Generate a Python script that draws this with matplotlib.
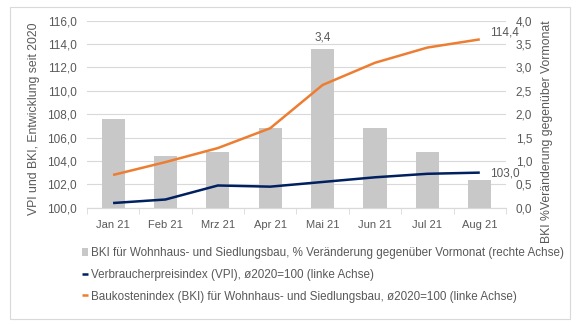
import matplotlib.pyplot as plt
from matplotlib.patches import Rectangle

months = ['Jan 21', 'Feb 21', 'Mrz 21', 'Apr 21', 'Mai 21', 'Jun 21', 'Jul 21', 'Aug 21']
bki_change = [1.9, 1.1, 1.2, 1.7, 3.4, 1.7, 1.2, 0.6]
vpi = [100.4, 100.7, 101.9, 101.8, 102.2, 102.6, 102.9, 103.0]
bki = [102.8, 103.9, 105.1, 106.8, 110.5, 112.4, 113.7, 114.4]

left_ticks = [100 + 2 * i for i in range(9)]
right_ticks = [0.5 * i for i in range(9)]

grey_text = '#595959'
plt.rcParams['font.family'] = ['Liberation Sans', 'DejaVu Sans']


def de(v):
    return f'{v:.1f}'.replace('.', ',')


fig = plt.figure(figsize=(5.87, 3.23), dpi=100)
ax = fig.add_axes([0.148, 0.357, 0.714, 0.579])
ax2 = ax.twinx()

x = list(range(len(months)))

# bars on the right scale, drawn underneath the index lines
ax2.bar(x, bki_change, width=0.44, color='#C8C8C8', zorder=2,
        label='BKI für Wohnhaus- und Siedlungsbau, % Veränderung gegenüber Vormonat (rechte Achse)')
ax2.set_ylim(0, 4)
ax2.set_yticks(right_ticks)
ax2.set_yticklabels([de(t) for t in right_ticks])
ax2.grid(axis='y', color='#D9D9D9', linewidth=0.8, zorder=0)
ax2.set_axisbelow(True)
ax2.text(4, bki_change[4] + 0.12, de(bki_change[4]),
         ha='center', va='bottom', color=grey_text, fontsize=8.5)

l1, = ax.plot(x, vpi, color='#002060', linewidth=1.8, solid_capstyle='butt',
              label='Verbraucherpreisindex (VPI), ø2020=100 (linke Achse)')
l2, = ax.plot(x, bki, color='#ED7D31', linewidth=1.8, solid_capstyle='butt',
              label='Baukostenindex (BKI) für Wohnhaus- und Siedlungsbau, ø2020=100 (linke Achse)')
ax.set_ylim(100, 116)
ax.set_yticks(left_ticks)
ax.set_yticklabels([de(t) for t in left_ticks])
ax.set_xlim(-0.5, len(months) - 0.5)
ax.set_xticks(x)
ax.set_xticklabels(months)
ax.set_xticks([i - 0.5 for i in range(len(months) + 1)], minor=True)
ax.tick_params(axis='x', which='major', length=0, pad=9)
ax.tick_params(axis='x', which='minor', length=4, color='#D9D9D9')
ax.set_zorder(ax2.get_zorder() + 1)
ax.patch.set_visible(False)

ax.text(7.2, bki[-1] + 0.6, de(bki[-1]),
        ha='left', va='center', color=grey_text, fontsize=8.5)
ax.text(7.2, vpi[-1] - 0.05, de(vpi[-1]),
        ha='left', va='center', color=grey_text, fontsize=8.5)

for a in (ax, ax2):
    for side in ('top', 'left', 'right'):
        a.spines[side].set_visible(False)
    a.spines['bottom'].set_color('#D9D9D9')
    a.tick_params(axis='y', length=0, colors=grey_text, labelsize=8.5)
    a.tick_params(axis='x', colors=grey_text, labelsize=8)
ax.tick_params(axis='y', pad=7)
ax2.tick_params(axis='y', pad=7)
ax.tick_params(axis='x', which='minor', colors='#D9D9D9')

ax.set_ylabel('VPI und BKI, Entwicklung seit 2020', color=grey_text, fontsize=8.8)
ax2.set_ylabel('BKI %Veränderung gegenüber Vormonat', color=grey_text, fontsize=8.8)
ax.yaxis.set_label_coords(-0.112, 0.474)
ax2.yaxis.set_label_coords(1.083, 0.405)

bars_handle = ax2.containers[0]
fig.legend([bars_handle, l1, l2],
           [bars_handle.get_label(), l1.get_label(), l2.get_label()],
           loc='upper left', bbox_to_anchor=(0.13, 0.252), frameon=False,
           handlelength=0.5, handletextpad=0.25, labelspacing=0.82,
           labelcolor=grey_text, fontsize=8.4, borderpad=0)

fig.patches.append(Rectangle((10 / 587, 1 - 319 / 323), 560 / 587, 312 / 323,
                             transform=fig.transFigure, fill=False,
                             edgecolor='#D9D9D9', linewidth=0.8))

fig.savefig('out.png', dpi=100, facecolor='white')
